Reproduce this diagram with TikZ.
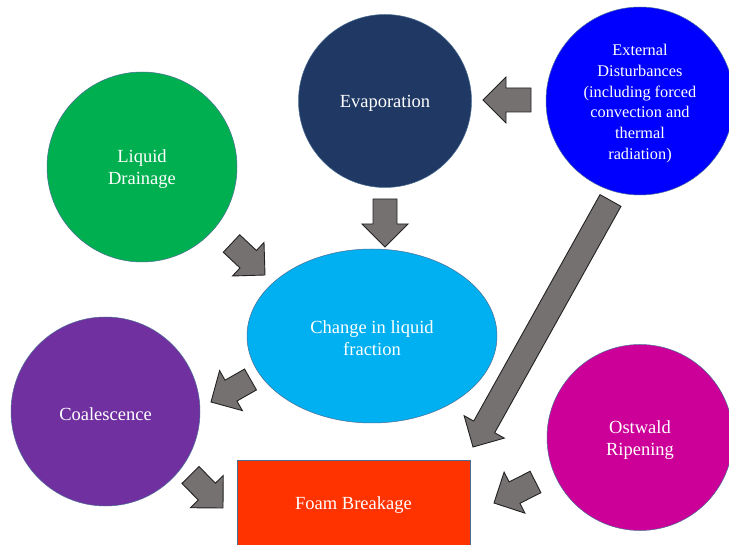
\documentclass[tikz,border=0pt]{standalone}
\usepackage{fontspec}
\setmainfont{Liberation Serif}
\usetikzlibrary{shapes.geometric,calc}
\definecolor{evapc}{HTML}{1F3864}
\definecolor{extc}{HTML}{0000FF}
\definecolor{drainc}{HTML}{00B050}
\definecolor{changec}{HTML}{00B0F0}
\definecolor{coalc}{HTML}{7030A0}
\definecolor{ostc}{HTML}{CC0099}
\definecolor{foamc}{HTML}{FF3300}
\definecolor{edgec}{HTML}{4A6D94}
\definecolor{arrowgray}{HTML}{767171}
\definecolor{arrowedge}{HTML}{222222}
\tikzset{
  bubble/.style={circle, inner sep=0pt, draw=edgec, line width=0.5pt},
  txt/.style={text=white, align=center, inner sep=0pt, yshift=-2.5pt, font=\fontsize{18.5}{22}\selectfont},
  smalltxt/.style={txt, font=\fontsize{16.3}{20.7}\selectfont},
  blockarrow/.style={fill=arrowgray, draw=arrowedge, line width=0.9pt, line join=miter},
}
\newcommand{\blockarr}[2]{%
  \coordinate (#2-h) at ($(#2)!23pt!(#1)$);
  \draw[blockarrow] ($(#1)!12pt!90:(#2)$) -- ($(#2-h)!12pt!90:(#2)$) -- ($(#2-h)!23pt!90:(#2)$) -- (#2)
    -- ($(#2-h)!23pt!-90:(#2)$) -- ($(#2-h)!12pt!-90:(#2)$) -- ($(#1)!12pt!-90:(#2)$) -- cycle;
}
\begin{document}
\begin{tikzpicture}[x=1pt,y=-1pt]
\useasboundingbox (0,0) rectangle (729,545);
\fill[white] (0,0) rectangle (729,545);
\clip (0,0) rectangle (729,545);

\node[bubble, fill=evapc, minimum size=173pt, label={[txt]center:Evaporation}] (evap) at (385,101) {};
\node[bubble, fill=extc, minimum size=188pt,
  label={[smalltxt]center:External\\Disturbances\\(including forced\\convection and\\thermal\\radiation)}] (ext) at (640,101) {};
\node[bubble, fill=drainc, minimum size=190pt, label={[txt]center:Liquid\\Drainage}] (drain) at (142,167) {};
\node[bubble, ellipse, fill=changec, minimum width=250pt, minimum height=174pt,
  label={[txt]center:Change in liquid\\fraction}] (change) at (372,336) {};
\node[bubble, fill=coalc, minimum size=189pt, label={[txt]center:Coalescence}] (coal) at (105.5,411.5) {};
\node[bubble, fill=ostc, minimum size=186pt, label={[txt]center:Ostwald\\Ripening}] (ost) at (640,437.5) {};
\node[rectangle, fill=foamc, draw=edgec, line width=0.5pt, minimum width=233pt, minimum height=86pt, inner sep=0pt,
  label={[txt]center:Foam Breakage}] (foam) at (353.5,503) {};

\coordinate (a1t) at (531,100);   \coordinate (a1h) at (483,100);
\coordinate (a2t) at (385,199);   \coordinate (a2h) at (385,247);
\coordinate (a3t) at (231.5,243.5); \coordinate (a3h) at (265,275);
\coordinate (a4t) at (610.5,200.5); \coordinate (a4h) at (473,447);
\coordinate (a5t) at (250.5,379.5); \coordinate (a5h) at (211,402);
\coordinate (a6t) at (190.5,475); \coordinate (a6h) at (223,508);
\coordinate (a7t) at (535.5,482); \coordinate (a7h) at (494,503);

\blockarr{a1t}{a1h}
\blockarr{a2t}{a2h}
\blockarr{a3t}{a3h}
\blockarr{a4t}{a4h}
\blockarr{a5t}{a5h}
\blockarr{a6t}{a6h}
\blockarr{a7t}{a7h}
\end{tikzpicture}
\end{document}
